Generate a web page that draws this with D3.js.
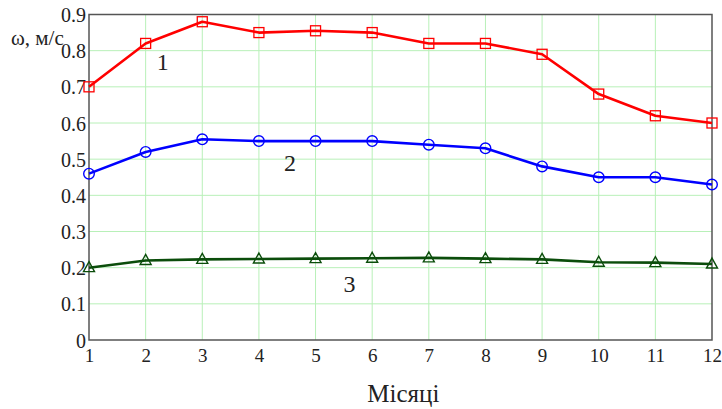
<!DOCTYPE html>
<html><head><meta charset="utf-8">
<script src="https://cdn.jsdelivr.net/npm/d3@7"></script>
<style>body{margin:0;background:#fff}svg{display:block}text{font-family:"Liberation Serif","Times New Roman",serif}</style>
</head><body><svg id="c" width="722" height="409"></svg>
<script>
const months = [1,2,3,4,5,6,7,8,9,10,11,12];
const series1 = [0.70,0.82,0.88,0.85,0.855,0.85,0.82,0.82,0.79,0.68,0.62,0.60];
const series2 = [0.46,0.52,0.555,0.55,0.55,0.55,0.54,0.53,0.48,0.45,0.45,0.43];
const series3 = [0.20,0.22,0.223,0.224,0.225,0.226,0.227,0.225,0.223,0.215,0.214,0.21];
const yTicks = [0,0.1,0.2,0.3,0.4,0.5,0.6,0.7,0.8,0.9];
const xLabel = "Місяці";
const yLabel = "ω, м/с";
const curveLabels = ["1","2","3"];

const svg = d3.select("#c");
const L=89, R=712, T=14.5, B=340;
const x = d3.scaleLinear().domain([1,12]).range([L,R]);
const y = d3.scaleLinear().domain([0,0.9]).range([B,T]);
const font = '"Liberation Serif","Times New Roman",serif';

// grid
svg.append("g").selectAll("line").data(months.slice(1,-1)).join("line")
  .attr("x1",d=>x(d)).attr("x2",d=>x(d)).attr("y1",T).attr("y2",B)
  .attr("stroke","#b8f0b8").attr("stroke-width",1);
svg.append("g").selectAll("line").data(yTicks.slice(1,-1)).join("line")
  .attr("x1",L).attr("x2",R).attr("y1",d=>y(d)).attr("y2",d=>y(d))
  .attr("stroke","#b8f0b8").attr("stroke-width",1);

// frame
svg.append("rect").attr("x",L).attr("y",T).attr("width",R-L).attr("height",B-T)
  .attr("fill","none").attr("stroke","#555").attr("stroke-width",1.5);

// axes labels
const yAxis = d3.axisLeft(y).tickValues(yTicks).tickSize(0).tickPadding(3)
  .tickFormat(d=> d===0 ? "0" : d3.format(".1f")(d));
const ya = svg.append("g").attr("transform",`translate(${L},0)`).call(yAxis);
ya.attr("font-family",null).attr("font-size",null);
ya.select(".domain").remove();
ya.selectAll("text").style("font-family",font).style("font-size","20px").attr("fill","#222").attr("dy","0.35em");

const xAxis = d3.axisBottom(x).tickValues(months).tickSize(0).tickPadding(9).tickFormat(d3.format("d"));
const xa = svg.append("g").attr("transform",`translate(0,${B})`).call(xAxis);
xa.attr("font-family",null).attr("font-size",null);
xa.select(".domain").remove();
xa.selectAll("text").style("font-family",font).style("font-size","19px").attr("fill","#222");

svg.append("text").attr("x",x(6.55)).attr("y",402).attr("text-anchor","middle")
  .style("font-family",font).style("font-size","25px").attr("fill","#222").text(xLabel);
svg.append("text").attr("x",11).attr("y",45)
  .style("font-family",font).style("font-size","21px").attr("fill","#222").text(yLabel);

const line = d3.line().x((d,i)=>x(months[i])).y(d=>y(d));
const defs = [
  {data:series1,color:"#ff0000",marker:"square"},
  {data:series2,color:"#0000ff",marker:"circle"},
  {data:series3,color:"#0b4d0b",marker:"triangle"}
];
defs.forEach(s=>{
  svg.append("path").attr("d",line(s.data)).attr("fill","none")
    .attr("stroke",s.color).attr("stroke-width",2.6).attr("stroke-linejoin","round");
  const g = svg.append("g");
  s.data.forEach((v,i)=>{
    const cx=x(months[i]), cy=y(v);
    if(s.marker==="square"){
      g.append("rect").attr("x",cx-5).attr("y",cy-5).attr("width",10).attr("height",10)
        .attr("fill","none").attr("stroke",s.color).attr("stroke-width",1.3);
    } else if(s.marker==="circle"){
      g.append("circle").attr("cx",cx).attr("cy",cy).attr("r",5.3)
        .attr("fill","none").attr("stroke",s.color).attr("stroke-width",1.4);
    } else {
      g.append("path").attr("d",`M${cx},${cy-6}L${cx+5.5},${cy+4}L${cx-5.5},${cy+4}Z`)
        .attr("fill","none").attr("stroke",s.color).attr("stroke-width",1.4);
    }
  });
});

// curve numbers
const numPos = [[2.3,0.77],[4.55,0.49],[5.6,0.155]];
curveLabels.forEach((t,i)=>{
  svg.append("text").attr("x",x(numPos[i][0])).attr("y",y(numPos[i][1]))
    .attr("text-anchor","middle").attr("dy","0.35em")
    .style("font-family",font).style("font-size","24px").attr("fill","#222").text(t);
});
</script></body></html>
